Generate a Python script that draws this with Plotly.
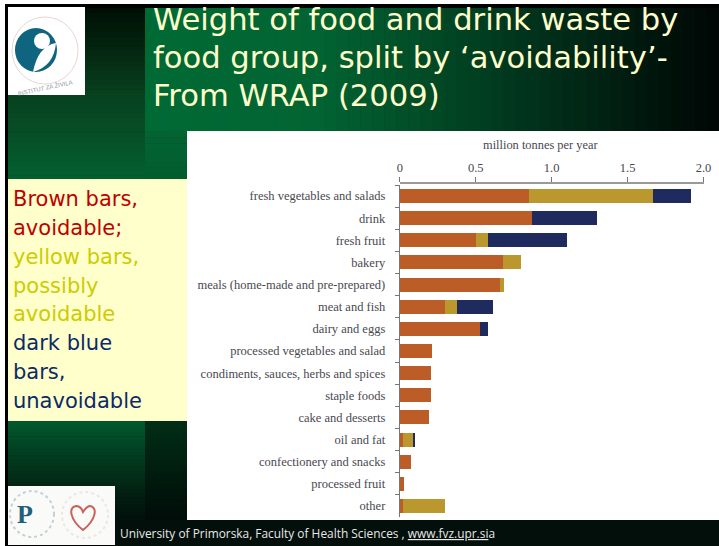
import plotly.graph_objects as go

categories = ["fresh vegetables and salads", "drink", "fresh fruit", "bakery",
              "meals (home-made and pre-prepared)", "meat and fish", "dairy and eggs",
              "processed vegetables and salad", "condiments, sauces, herbs and spices",
              "staple foods", "cake and desserts", "oil and fat",
              "confectionery and snacks", "processed fruit", "other"]
avoidable = [0.853, 0.871, 0.502, 0.682, 0.662, 0.296, 0.531, 0.209, 0.205, 0.204, 0.191, 0.022, 0.071, 0.029, 0.022]
possibly = [0.813, 0, 0.078, 0.118, 0.027, 0.082, 0, 0, 0, 0, 0, 0.069, 0, 0, 0.278]
unavoidable = [0.253, 0.427, 0.518, 0, 0, 0.238, 0.053, 0, 0, 0, 0, 0.002, 0, 0, 0]
tick_vals = [0, 0.5, 1.0, 1.5, 2.0]
tick_text = ["0", "0.5", "1.0", "1.5", "2.0"]
title_lines = ["Weight of food and drink waste by", "food group, split by \u2018avoidability\u2019-", "From WRAP (2009)"]
key_lines = [("Brown bars,", "#C00000"), ("avoidable;", "#C00000"), ("yellow bars,", "#CCCC00"),
             ("possibly", "#CCCC00"), ("avoidable", "#CCCC00"), ("dark blue", "#0B2A66"),
             ("bars,", "#0B2A66"), ("unavoidable", "#0B2A66")]

W, H = 719, 546
px = lambda x: x / W
py = lambda y: 1 - y / H


def lerp(a, b, t):
    return "#%02x%02x%02x" % tuple(round(a[i] + (b[i] - a[i]) * t) for i in range(3))


shapes = []


def rect(x0, y0, x1, y1, color):
    shapes.append(dict(type="rect", xref="paper", yref="paper", x0=px(x0), x1=px(x1), y0=py(y0), y1=py(y1),
                       fillcolor=color, line_width=0, layer="below"))


def ramp(x0, y0, x1, y1, stops, vertical, n=36):
    span = (y1 - y0) if vertical else (x1 - x0)
    start = y0 if vertical else x0
    for i in range(n):
        a = start + span * i / n
        b = start + span * (i + 1) / n + 0.6
        t = (i + 0.5) / n
        for j in range(len(stops) - 1):
            if stops[j][0] <= t <= stops[j + 1][0]:
                c = lerp(stops[j][1], stops[j + 1][1], (t - stops[j][0]) / (stops[j + 1][0] - stops[j][0]))
                break
        if vertical:
            rect(x0, a, x1, min(b, y1), c)
        else:
            rect(a, y0, min(b, x1), y1, c)


rect(5, 4, W, H, "#000000")
# left column and lower panels
ramp(8, 8, 145, 180, [(0, (0, 14, 4)), (0.5, (8, 64, 30)), (1, (4, 96, 48))], True)
ramp(8, 421, 145, 520, [(0, (2, 88, 46)), (0.7, (2, 34, 18)), (1, (1, 16, 10))], True, 26)
ramp(145, 421, 187, 520, [(0, (1, 46, 22)), (1, (0, 12, 8))], True, 20)
ramp(145, 131, 187, 180, [(0, (3, 100, 50)), (1, (3, 92, 46))], True, 8)
# title band
ramp(145, 8, W, 131, [(0, (0, 106, 53)), (0.3, (2, 100, 50)), (0.72, (1, 44, 24)), (1, (0, 6, 4))], False, 48)
# footer and chart panel
rect(115, 520, W, H, "#020F0A")
rect(187, 131, W, 520, "#FFFFFF")
rect(8, 179, 187, 421, "#FFFFCC")
# top logo
rect(8, 7, 85, 95, "#FFFFFF")
shapes += [
    dict(type="circle", xref="paper", yref="paper", x0=px(12), x1=px(78), y0=py(84), y1=py(17),
         line=dict(color="#E8D6D2", width=1), layer="below"),
    dict(type="circle", xref="paper", yref="paper", x0=px(15), x1=px(57), y0=py(72), y1=py(28),
         fillcolor="#0F6480", line_width=0, layer="below"),
    dict(type="circle", xref="paper", yref="paper", x0=px(34), x1=px(50), y0=py(49), y1=py(33),
         fillcolor="#FFFFFF", line_width=0, layer="below"),
    dict(type="path", xref="paper", yref="paper", fillcolor="#FFFFFF", line_width=0, layer="below",
         path=f"M {px(56)} {py(43)} Q {px(38)} {py(46)} {px(33)} {py(72)} Q {px(54)} {py(66)} {px(56)} {py(43)} Z"),
]
# bottom logos
rect(8, 486, 115, 545, "#FAFAF8")
shapes += [
    dict(type="circle", xref="paper", yref="paper", x0=px(10), x1=px(54), y0=py(537), y1=py(491),
         line=dict(color="#C6D0D8", width=2, dash="dot"), layer="below"),
    dict(type="circle", xref="paper", yref="paper", x0=px(62), x1=px(108), y0=py(538), y1=py(492),
         line=dict(color="#ECE6E4", width=2, dash="dot"), layer="below"),
    dict(type="path", xref="paper", yref="paper", line=dict(color="#C9625A", width=2), layer="below",
         path=f"M {px(83)} {py(530)} C {px(70)} {py(520)} {px(68)} {py(507)} {px(76)} {py(506)} "
              f"C {px(80)} {py(506)} {px(82)} {py(509)} {px(83)} {py(512)} "
              f"C {px(85)} {py(509)} {px(87)} {py(506)} {px(90)} {py(506)} "
              f"C {px(98)} {py(507)} {px(96)} {py(520)} {px(83)} {py(530)} Z"),
]

annotations = []
for text, y in zip(title_lines, [20, 58, 95]):
    annotations.append(dict(text=text, x=px(151), y=py(y), xref="paper", yref="paper", xanchor="left", yanchor="middle",
                            showarrow=False, font=dict(family="DejaVu Sans", size=30.6, color="#FFFFCC")))
for (text, color), y in zip(key_lines, [199, 228, 257, 286, 314, 343, 372, 401]):
    annotations.append(dict(text=text, x=px(11), y=py(y), xref="paper", yref="paper", xanchor="left", yanchor="middle",
                            showarrow=False, font=dict(family="DejaVu Sans", size=21, color=color)))
annotations.append(dict(text="University of Primorska, Faculty of Health Sciences , "
                             "<span style=\"text-decoration:underline\">www.fvz.upr.si</span>a",
                        x=px(118), y=py(533), xref="paper", yref="paper", xanchor="left", yanchor="middle",
                        showarrow=False, font=dict(family="Open Sans", size=11.9, color="#E8E8E8")))
annotations.append(dict(text="<b>P</b>", x=px(25), y=py(514), xref="paper", yref="paper", showarrow=False,
                        xanchor="center", yanchor="middle",
                        font=dict(family="Liberation Serif", size=26, color="#1F5F7A")))
annotations.append(dict(text="INSTITUT ZA ŽIVILA", x=px(45), y=py(87), xref="paper", yref="paper", showarrow=False,
                        xanchor="center", yanchor="middle",
                        textangle=-12, font=dict(family="Liberation Sans", size=6, color="#8A97A3")))
annotations.append(dict(text="million tonnes per year", x=px(540), y=py(145), xref="paper", yref="paper",
                        xanchor="center", yanchor="middle",
                        showarrow=False, font=dict(family="Liberation Serif", size=12.4, color="#484850")))

fig = go.Figure()
for name, vals, color in [("avoidable", avoidable, "#BC5C26"),
                          ("possibly avoidable", possibly, "#BB982E"),
                          ("unavoidable", unavoidable, "#1F2A5E")]:
    fig.add_trace(go.Bar(y=categories, x=vals, name=name, orientation="h",
                         marker=dict(color=color, line_width=0)))

axis_font = dict(family="Liberation Serif", size=12.5, color="#484850")
fig.update_layout(
    width=W, height=H, autosize=False,
    margin=dict(l=0, r=0, t=0, b=0),
    paper_bgcolor="#FFFFFF", plot_bgcolor="#FFFFFF",
    barmode="stack", bargap=0.37, showlegend=False,
    shapes=shapes, annotations=annotations,
    xaxis=dict(domain=[px(399.8), px(703.5)], range=[0, 2], side="top", tickvals=tick_vals, ticktext=tick_text,
               automargin=False, anchor="free", position=py(183),
               ticks="outside", ticklen=5, tickcolor="#777777", showgrid=False, zeroline=False,
               showline=True, linecolor="#999999", linewidth=1.5, tickfont=axis_font),
    yaxis=dict(domain=[py(517), py(185)], type="category", categoryorder="array", categoryarray=categories,
               automargin=False,
               autorange="reversed", tickson="boundaries", ticks="outside", ticklen=4, tickcolor="#777777",
               showgrid=False, zeroline=False, showline=True, linecolor="#777777", linewidth=1,
               tickfont=axis_font, ticklabelstandoff=11),
)
fig.write_html("out.html", config={"displayModeBar": False}, post_script="document.body.style.margin='0';")
